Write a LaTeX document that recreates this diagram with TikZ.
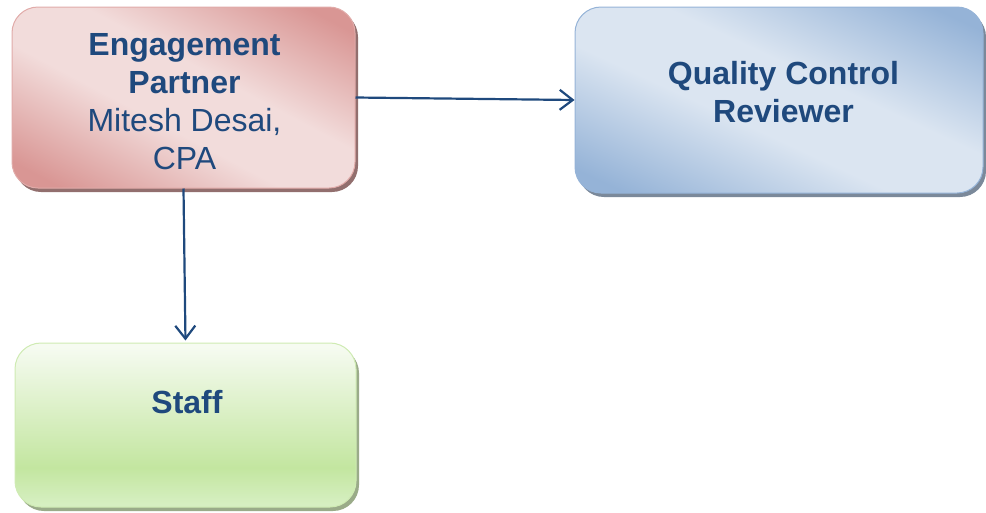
\documentclass[tikz,border=0pt]{standalone}
\usepackage{fontspec}
\setmainfont{Liberation Sans}
\usetikzlibrary{arrows.meta,shadows}
\definecolor{txt}{HTML}{1F497D}
\definecolor{rdark}{HTML}{D99694}
\definecolor{rlight}{HTML}{F2DCDB}
\definecolor{bdark}{HTML}{95B3D7}
\definecolor{blight}{HTML}{DBE5F1}
\definecolor{gtop}{HTML}{F6FBF1}
\definecolor{gmid}{HTML}{C3E6A0}
\definecolor{gbot}{HTML}{D6EFC1}
\pgfdeclarehorizontalshading{redsh}{100bp}{color(0bp)=(rdark); color(21bp)=(rdark); color(43bp)=(rlight); color(57bp)=(rlight); color(79bp)=(rdark); color(100bp)=(rdark)}
\pgfdeclarehorizontalshading{bluesh}{100bp}{color(0bp)=(bdark); color(21bp)=(bdark); color(43bp)=(blight); color(57bp)=(blight); color(79bp)=(bdark); color(100bp)=(bdark)}
\pgfdeclareverticalshading{greensh}{100bp}{color(0bp)=(gbot); color(26bp)=(gbot); color(37bp)=(gmid); color(74bp)=(gtop); color(100bp)=(gtop)}
\tikzset{
  box/.style={rectangle, rounded corners=26pt, inner sep=0pt, line width=1pt},
  lbl/.style={anchor=base, inner sep=0pt, text=txt, font=\fontsize{32}{38}\selectfont},
  conn/.style={draw=txt, line width=2.2pt, -{Straight Barb[length=13pt, width=20pt, line width=2.2pt]}}
}
\begin{document}
\begin{tikzpicture}[x=1pt,y=-1pt]
\useasboundingbox (0,0) rectangle (986,512);
\node[box, minimum width=343pt, minimum height=181pt, shading=redsh, shading angle=62, draw=rdark!80!white,
  drop shadow={shadow xshift=3pt, shadow yshift=-4pt, fill=black!30!rdark!75!gray, opacity=1}] (ep) at (183.5,97.5) {};
\node[box, minimum width=408pt, minimum height=186pt, shading=bluesh, shading angle=65, draw=bdark,
  drop shadow={shadow xshift=3pt, shadow yshift=-4pt, fill=black!20!bdark!60!gray, opacity=1}] (qc) at (779,100) {};
\node[box, minimum width=341pt, minimum height=164pt, shading=greensh, draw=gmid!80!white,
  drop shadow={shadow xshift=3pt, shadow yshift=-4pt, fill=black!10!gmid!55!gray, opacity=1}] (st) at (185.5,425) {};
\node[lbl] (eptext) at (184.5,55) {\begin{tabular}[t]{@{}c@{}}\bfseries Engagement\\ \bfseries Partner\\ Mitesh Desai,\\ CPA\end{tabular}};
\node[lbl] (qctext) at (783.5,84) {\begin{tabular}[t]{@{}c@{}}\bfseries Quality Control\\ \bfseries Reviewer\end{tabular}};
\node[lbl] (sttext) at (187,413) {\bfseries Staff};
\draw[conn] (ep.east) -- (qc.west);
\draw[conn, shorten >=2pt] (ep.south) -- (st.north);
\end{tikzpicture}
\end{document}
